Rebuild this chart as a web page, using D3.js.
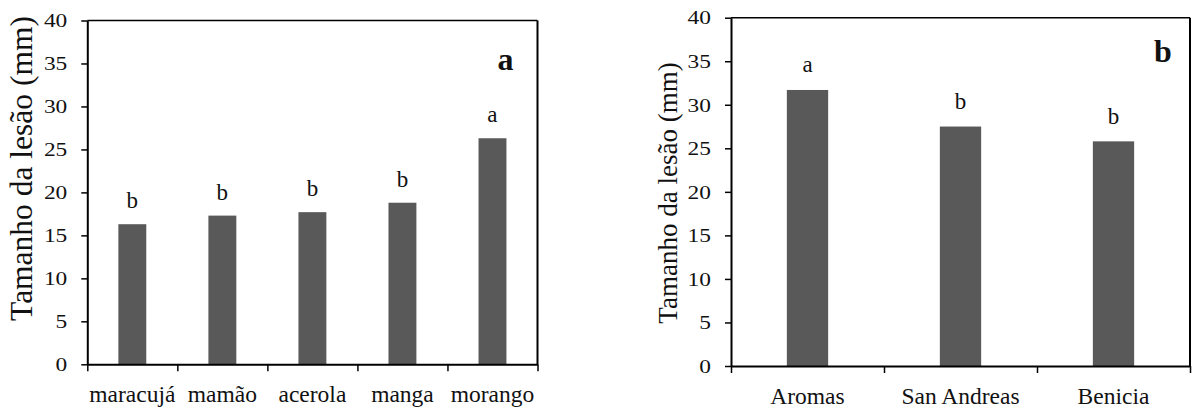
<!DOCTYPE html>
<html>
<head>
<meta charset="utf-8">
<script src="https://cdn.jsdelivr.net/npm/d3@7"></script>
<style>
  html, body { margin: 0; padding: 0; background: #fff; }
  svg { display: block; font-family: "Liberation Serif", "Times New Roman", serif; }
</style>
</head>
<body>
<svg id="chart" width="1193" height="408"></svg>
<script>
// Lesion size by host fruit (panel a)
const hostCategories = ["maracujá", "mamão", "acerola", "manga", "morango"];
const hostValues = [16.3, 17.3, 17.7, 18.8, 26.3];
const hostLetters = ["b", "b", "b", "b", "a"];

// Lesion size by strawberry cultivar (panel b)
const cultivarCategories = ["Aromas", "San Andreas", "Benicia"];
const cultivarValues = [31.7, 27.5, 25.8];
const cultivarLetters = ["a", "b", "b"];

// Shared y axis
const yTickValues = [0, 5, 10, 15, 20, 25, 30, 35, 40];
const yDomain = [0, 40];
const yTitle = "Tamanho da lesão (mm)";

const svg = d3.select("#chart");

const panels = [
  {
    cats: hostCategories, vals: hostValues, letters: hostLetters, tag: "a",
    x0: 87.3, x1: 537.5, yTop: 20.5, yBot: 364.3, barFrac: 0.31,
    titleX: 32, titleY: 168.5, titleSize: 31.5,
    tagX: 505.5, tagY: 70, letterGap: 16
  },
  {
    cats: cultivarCategories, vals: cultivarValues, letters: cultivarLetters, tag: "b",
    x0: 731, x1: 1190, yTop: 17.7, yBot: 366, barFrac: 0.27,
    titleX: 677, titleY: 193, titleSize: 27,
    tagX: 1163, tagY: 61.5, letterGap: 17.5
  }
];

panels.forEach(p => {
  const g = svg.append("g");
  const n = p.cats.length;

  const x = d3.scaleBand().domain(p.cats).range([p.x0, p.x1]).paddingInner(0).paddingOuter(0);
  const xEdge = d3.scaleLinear().domain([0, n]).range([p.x0, p.x1]);
  const y = d3.scaleLinear().domain(yDomain).range([p.yBot, p.yTop]);
  const bw = x.bandwidth() * p.barFrac;

  // bars
  g.selectAll("rect.bar")
    .data(p.cats.map((c, i) => ({ c, v: p.vals[i], l: p.letters[i] })))
    .join("rect")
    .attr("class", "bar")
    .attr("x", d => x(d.c) + x.bandwidth() / 2 - bw / 2)
    .attr("width", bw)
    .attr("y", d => y(d.v))
    .attr("height", d => y(0) - y(d.v))
    .attr("fill", "#595959");

  // significance letters
  g.selectAll("text.sig")
    .data(p.cats.map((c, i) => ({ c, v: p.vals[i], l: p.letters[i] })))
    .join("text")
    .attr("class", "sig")
    .attr("x", d => x(d.c) + x.bandwidth() / 2)
    .attr("y", d => y(d.v) - p.letterGap)
    .attr("text-anchor", "middle")
    .attr("font-size", 23)
    .attr("fill", "#111")
    .text(d => d.l);

  // frame: top and right edges
  g.append("line")
    .attr("x1", p.x0).attr("x2", p.x1)
    .attr("y1", p.yTop).attr("y2", p.yTop)
    .attr("stroke", "#000").attr("stroke-width", 1.6);
  g.append("line")
    .attr("x1", p.x1).attr("x2", p.x1)
    .attr("y1", p.yTop).attr("y2", p.yBot)
    .attr("stroke", "#000").attr("stroke-width", 2);

  // y axis
  const yAxis = g.append("g")
    .attr("transform", `translate(${p.x0},0)`)
    .call(d3.axisLeft(y).tickValues(yTickValues).tickSize(6).tickPadding(14).tickSizeOuter(0));
  yAxis.select(".domain").attr("stroke-width", 2);
  yAxis.selectAll(".tick line").attr("stroke-width", 1.5);
  yAxis.selectAll("text")
    .attr("font-size", 19.5)
    .attr("font-family", "Liberation Serif, Times New Roman, serif")
    .attr("fill", "#111")
    .each(function () {
      const w = this.getComputedTextLength();
      this.setAttribute("textLength", (w * 1.2).toFixed(2));
      this.setAttribute("lengthAdjust", "spacingAndGlyphs");
    });

  // x axis: tick marks on category boundaries
  const xTicks = g.append("g")
    .attr("transform", `translate(0,${p.yBot})`)
    .call(d3.axisBottom(xEdge).tickValues(d3.range(n + 1)).tickFormat("").tickSize(7).tickSizeOuter(0));
  xTicks.select(".domain").attr("stroke-width", 2);
  xTicks.selectAll(".tick line").attr("stroke-width", 1.5);

  // x axis: category labels centred in each band
  const xLabels = g.append("g")
    .attr("transform", `translate(0,${p.yBot})`)
    .call(d3.axisBottom(x).tickSize(0).tickPadding(21));
  xLabels.select(".domain").remove();
  xLabels.selectAll("text")
    .attr("font-size", 23.5)
    .attr("font-family", "Liberation Serif, Times New Roman, serif")
    .attr("fill", "#111");

  // y axis title
  g.append("text")
    .attr("transform", `translate(${p.titleX},${p.titleY}) rotate(-90)`)
    .attr("text-anchor", "middle")
    .attr("font-size", p.titleSize)
    .attr("fill", "#111")
    .text(yTitle);

  // panel tag
  g.append("text")
    .attr("x", p.tagX)
    .attr("y", p.tagY)
    .attr("text-anchor", "middle")
    .attr("font-size", 32)
    .attr("font-weight", "bold")
    .attr("fill", "#111")
    .text(p.tag);
});
</script>
</body>
</html>
